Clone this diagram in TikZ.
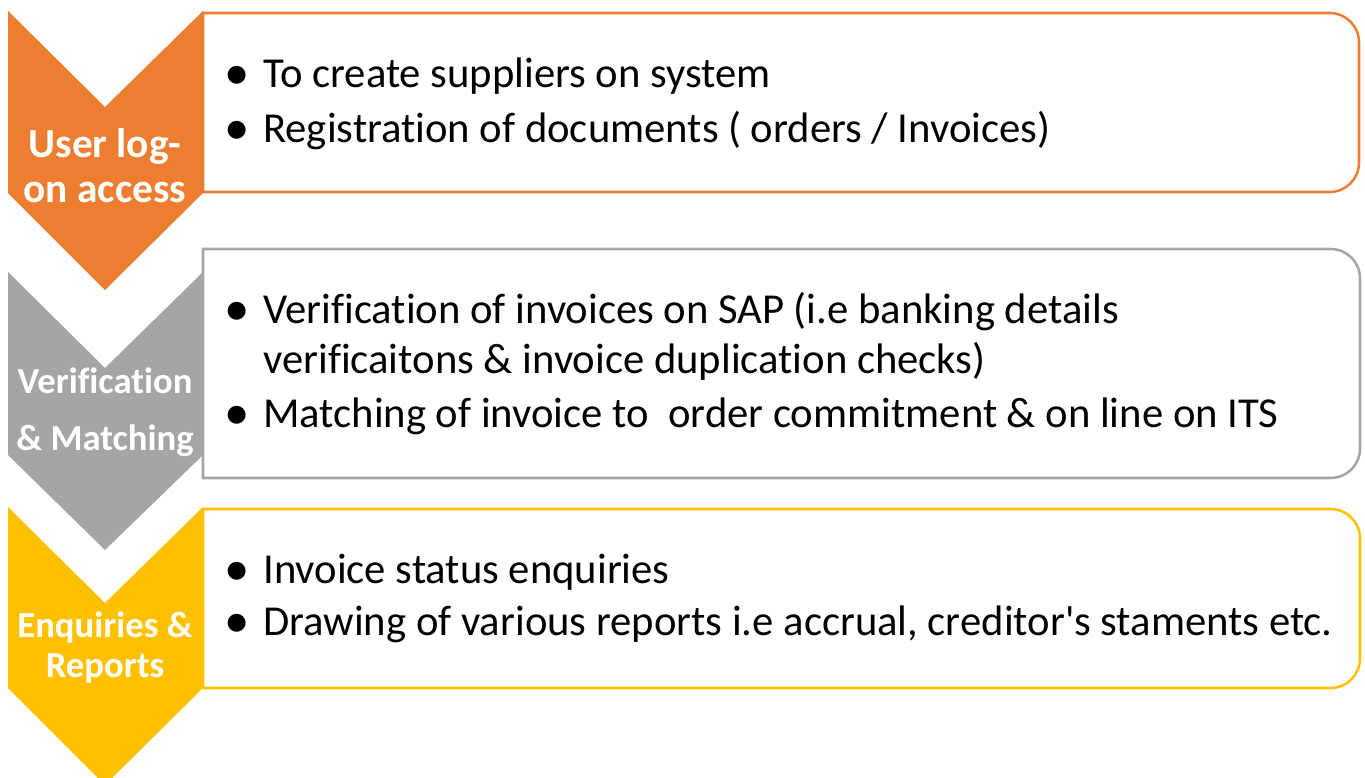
\documentclass[tikz,border=0pt]{standalone}
\usepackage{fontspec}
\setmainfont{Carlito}[Ligatures={NoCommon}]
\begin{document}
\begin{tikzpicture}[x=0.75pt,y=-0.75pt,
  chev/.style={draw=none},
  panel/.style={line width=1.9pt, fill=white},
  item/.style={anchor=base west, inner sep=0pt, font=\fontsize{32}{38}\selectfont, text=black},
  dot/.style={anchor=base, inner sep=0pt, font=\fontsize{38}{44}\selectfont, text=black},
  tag/.style={anchor=base, inner sep=0pt, text=white, font=\bfseries}]
\definecolor{accOrange}{HTML}{ED7D31}
\definecolor{accGray}{HTML}{A5A5A5}
\definecolor{accGold}{HTML}{FFC000}
\useasboundingbox (0,0) rectangle (1365,778);
\clip (0,0) rectangle (1365,778);

% panels: square on the left, rounded on the right
\draw[panel, draw=accOrange]
  (203,13) [rounded corners=22pt] -- (1359,13) -- (1359,192) [sharp corners] -- (203,192) -- cycle;
\draw[panel, draw=accGray]
  (203,249) [rounded corners=22pt] -- (1360,249) -- (1360,478) [sharp corners] -- (203,478) -- cycle;
\draw[panel, draw=accGold]
  (203,509) [rounded corners=22pt] -- (1360,509) -- (1360,688) [sharp corners] -- (203,688) -- cycle;

% chevrons
\fill[chev, accOrange] (8,11) -- (105,107) -- (203,11) -- (203,193) -- (105,290) -- (8,193) -- cycle;
\fill[chev, accGray]   (8,272) -- (105,368) -- (203,272) -- (203,455) -- (105,550) -- (8,455) -- cycle;
\fill[chev, accGold]   (8,507) -- (105,603) -- (203,507) -- (203,688) -- (105,785) -- (8,688) -- cycle;

% chevron labels
\node[tag, font=\bfseries\fontsize{31}{36}\selectfont] (t1a) at (105,157) {User log-};
\node[tag, font=\bfseries\fontsize{31}{36}\selectfont] (t1b) at (105,202) {on access};
\node[tag, font=\bfseries\fontsize{27.5}{32}\selectfont] (t2a) at (105,393) {Verification};
\node[tag, font=\bfseries\fontsize{27.5}{32}\selectfont] (t2b) at (105,450) {\& Matching};
\node[tag, font=\bfseries\fontsize{27.5}{32}\selectfont] (t3a) at (105,637) {Enquiries \&};
\node[tag, font=\bfseries\fontsize{27.5}{32}\selectfont] (t3b) at (105,677) {Reports};

% bullet lists
\node[dot] (b1) at (237,89) {•};
\node[item] (l1) at (263,87) {To create suppliers on system};
\node[dot] (b2) at (237,144) {•};
\node[item] (l2) at (263,142) {Registration of documents ( orders / Invoices)};

\node[dot] (b3) at (237,325) {•};
\node[item] (l3) at (263,323) {Verification of invoices on SAP (i.e banking details};
\node[item] (l3b) at (263,373) {verificaitons \& invoice duplication checks)};
\node[dot] (b4) at (237,429) {•};
\node[item] (l4) at (263,427) {Matching of invoice to\ \ order commitment \& on line on ITS};

\node[dot] (b5) at (237,585) {•};
\node[item] (l5) at (263,583) {Invoice status enquiries};
\node[dot] (b6) at (237,637) {•};
\node[item] (l6) at (263,635) {Drawing of various reports i.e accrual, creditor\textquotesingle s staments etc.};
\end{tikzpicture}
\end{document}
